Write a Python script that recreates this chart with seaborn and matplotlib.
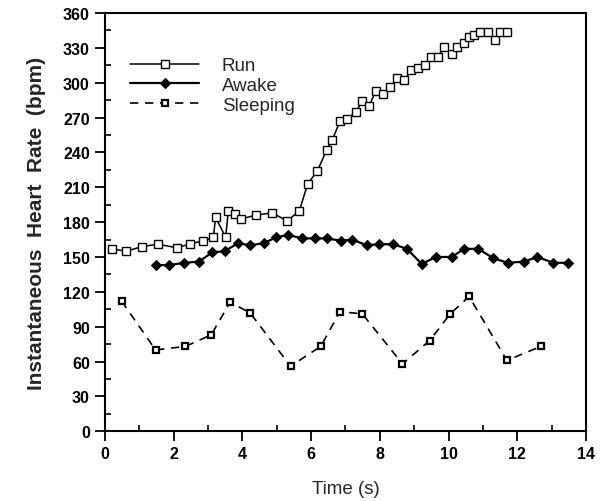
import numpy as np
import matplotlib
matplotlib.use("Agg")
import matplotlib.pyplot as plt
from matplotlib.ticker import MultipleLocator
import seaborn as sns

# data
run_t = [0.20, 0.62, 1.08, 1.54, 2.08, 2.46, 2.86, 3.15, 3.22, 3.51, 3.59, 3.78,
         3.97, 4.40, 4.86, 5.31, 5.66, 5.90, 6.18, 6.45, 6.62, 6.84, 7.05, 7.30,
         7.49, 7.69, 7.88, 8.10, 8.30, 8.51, 8.71, 8.92, 9.12, 9.31, 9.48, 9.68,
         9.87, 10.09, 10.24, 10.44, 10.60, 10.75, 10.92, 11.14, 11.36, 11.51, 11.70]
run_hr = [157, 155, 159, 161, 158, 161, 164, 167, 184, 167, 190, 187,
          183, 186, 188, 181, 190, 213, 224, 242, 251, 267, 269, 275,
          284, 280, 293, 290, 296, 304, 302, 311, 313, 315, 322, 322,
          331, 325, 331, 334, 339, 341, 344, 344, 337, 344, 344]

awake_t = [1.47, 1.86, 2.31, 2.73, 3.12, 3.48, 3.88, 4.22, 4.63, 4.99, 5.33,
           5.74, 6.10, 6.45, 6.87, 7.20, 7.62, 7.98, 8.39, 8.79, 9.22, 9.63,
           10.09, 10.46, 10.87, 11.30, 11.72, 12.19, 12.59, 13.05, 13.49]
awake_hr = [143, 143, 145, 146, 154, 155, 162, 160, 162, 167, 169,
            166, 166, 166, 164, 165, 160, 161, 161, 157, 144, 150,
            150, 157, 157, 149, 145, 146, 150, 145, 145]

sleep_t = [0.48, 1.47, 2.34, 3.09, 3.64, 4.22, 5.40, 6.28, 6.84, 7.49,
           8.66, 9.45, 10.05, 10.60, 11.70, 12.69]
sleep_hr = [112, 70, 73, 83, 111, 102, 56, 73, 103, 101,
            58, 78, 101, 116, 61, 73]

sns.set_style("ticks")
plt.rcParams['font.family'] = ['Liberation Sans', 'DejaVu Sans']

fig = plt.figure(figsize=(6.04, 5.02), dpi=100)
ax = fig.add_axes([0.174, 0.139, 0.796, 0.833])

sns.lineplot(x=run_t, y=run_hr, ax=ax, color='black', lw=1.1,
             marker='s', markersize=6, markerfacecolor='white',
             markeredgecolor='black', markeredgewidth=1.0,
             estimator=None, sort=False, label='Run')
sns.lineplot(x=awake_t, y=awake_hr, ax=ax, color='black', lw=1.6,
             marker='D', markersize=5, markerfacecolor='black',
             markeredgecolor='black', markeredgewidth=0.8,
             estimator=None, sort=False, label='Awake')
sns.lineplot(x=sleep_t, y=sleep_hr, ax=ax, color='black', lw=1.2,
             linestyle=(0, (5, 4)),
             marker='s', markersize=4.5, markerfacecolor='white',
             markeredgecolor='black', markeredgewidth=1.6,
             estimator=None, sort=False, label='Sleeping')

ax.set_xlim(0, 14)
ax.set_ylim(0, 360)
ax.xaxis.set_major_locator(MultipleLocator(2))
ax.xaxis.set_minor_locator(MultipleLocator(1))
ax.yaxis.set_major_locator(MultipleLocator(30))
ax.yaxis.set_minor_locator(MultipleLocator(15))
ax.tick_params(which='major', direction='out', length=7, width=1.3,
               colors='black', labelsize=11.5, pad=4)
ax.tick_params(which='minor', direction='in', length=4, width=1.2, colors='black')
ax.tick_params(top=False, right=False, which='both')
for lab in ax.get_xticklabels() + ax.get_yticklabels():
    lab.set_fontweight('bold')

for sp in ax.spines.values():
    sp.set_visible(True)
    sp.set_linewidth(1.5)
    sp.set_color('black')

ax.set_xlabel("Time (s)", fontsize=13.5, labelpad=13)
ax.set_ylabel("Instantaneous  Heart  Rate  (bpm)", fontsize=15,
              fontweight='bold', labelpad=12)

ax.legend(loc='upper left', bbox_to_anchor=(0.052, 0.895), frameon=False,
          fontsize=13.5, handlelength=3.7, handletextpad=1.2,
          labelspacing=0.15, borderaxespad=0, borderpad=0)

fig.savefig("out.png", dpi=100)
